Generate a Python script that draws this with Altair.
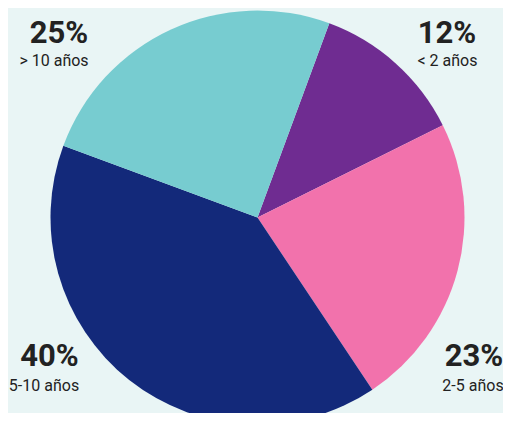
import math
import altair as alt
import pandas as pd

categories = ["< 2 años", "2-5 años", "5-10 años", "> 10 años"]
values = [12, 23, 40, 25]
colors = ["#6f2c91", "#f272ac", "#13297a", "#77ccd0"]

df = pd.DataFrame({
    "cat": categories,
    "value": values,
    "order": list(range(len(categories))),
})

W, H = 495, 405
cx, cy, R = 249.5, 209.5, 207
start = math.radians(20.3)

pie = alt.Chart(df).mark_arc(outerRadius=R, stroke=None).encode(
    theta=alt.Theta("value:Q", stack=True,
                    scale=alt.Scale(range=[start, start + 2 * math.pi])),
    color=alt.Color("cat:N", scale=alt.Scale(domain=categories, range=colors), legend=None),
    order=alt.Order("order:Q"),
    x=alt.value(cx),
    y=alt.value(cy),
)

# label anchor points (pct center x, pct baseline y, label center x, label baseline y)
anchors = {
    "< 2 años": (439, 35, 439.5, 58),
    "2-5 años": (466, 358, 465, 383),
    "5-10 años": (41.5, 358, 36, 383),
    "> 10 años": (51, 35, 46, 58),
}

layers = [pie]
for cat in categories:
    px, py, lx, ly = anchors[cat]
    base = alt.Chart(df).transform_filter(alt.datum.cat == cat).transform_calculate(
        pct="datum.value + '%'"
    )
    layers.append(base.mark_text(font="Roboto", fontSize=31, fontWeight="bold",
                                 color="#222222", align="center", baseline="alphabetic").encode(
        text="pct:N", x=alt.value(px), y=alt.value(py)))
    layers.append(base.mark_text(font="Roboto", fontSize=16,
                                 color="#222222", align="center", baseline="alphabetic").encode(
        text="cat:N", x=alt.value(lx), y=alt.value(ly)))

chart = alt.layer(*layers).properties(
    width=W, height=H, padding=0, autosize=alt.AutoSizeParams(type="none"),
    background="#e9f5f5",
).configure_view(stroke=None)

chart.save("out.html", embed_options={"renderer": "svg", "actions": False})
